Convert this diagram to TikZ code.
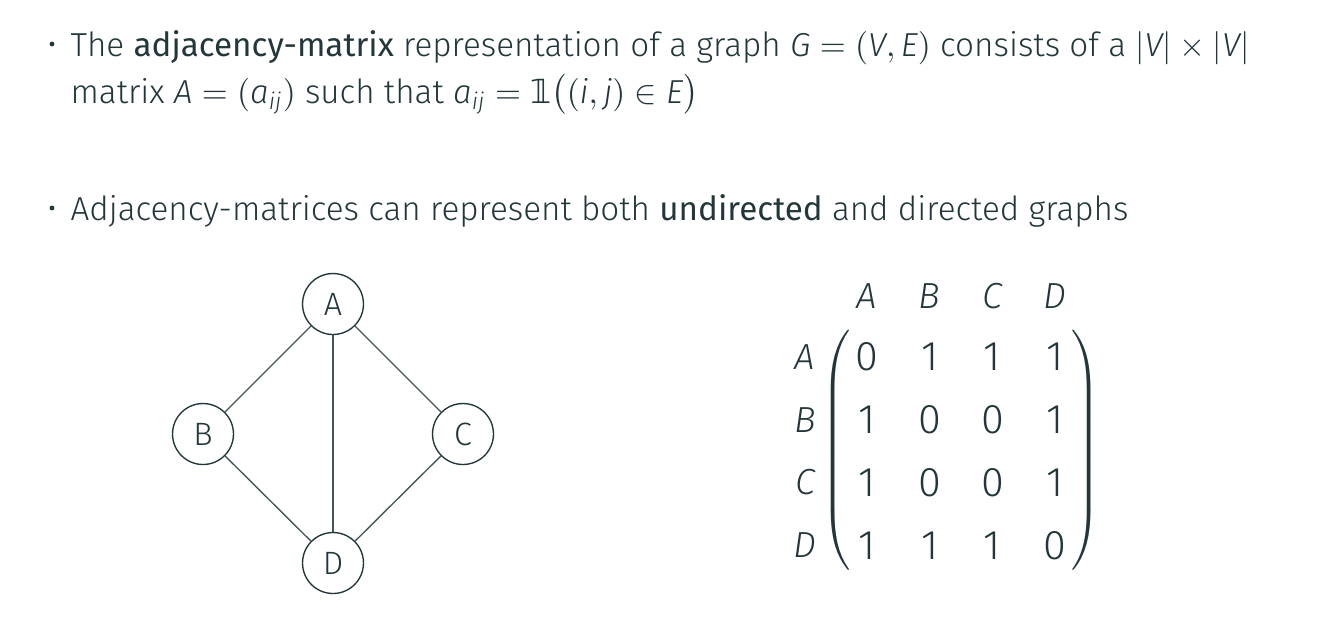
\documentclass[tikz,border=0pt]{standalone}
\usepackage{amsmath}
\usepackage{fontspec}
\setmainfont{Fira Sans Light}[ItalicFont={Fira Sans Light Italic},BoldFont={Fira Sans},BoldItalicFont={Fira Sans Italic}]
\newfontfamily\symfont{DejaVu Sans}
\usetikzlibrary{matrix,positioning}
\definecolor{darkteal}{HTML}{23373B}
\newcommand{\mi}[1]{\textit{#1}}
\newcommand{\indic}{\text{\symfont 𝟙}}

\begin{document}
\begin{tikzpicture}[x=0.328pt,y=-0.328pt,every node/.style={text=darkteal,font=\fontsize{10.9}{13}\selectfont},
  textline/.style={anchor=base west,inner sep=0pt},
  bulletdot/.style={circle,fill=darkteal,inner sep=0pt,minimum size=1.6pt},
  vertex/.style={circle,draw=darkteal,line width=0.45pt,minimum size=20pt,inner sep=0pt,font=\fontsize{10.6}{12}\selectfont},
  edge/.style={draw=darkteal!85,line width=0.45pt},
  lbl/.style={font=\fontsize{11.9}{14}\selectfont\itshape,inner sep=0pt}]
\useasboundingbox (0,0) rectangle (1334,625);
% bullets and text
\node[bulletdot] (b1) at (52,44) {};
\node[textline] (l1) at (70,56) {The \textbf{adjacency-matrix} representation of a graph $\mi{G} = (\mi{V},\mi{E})$ consists of a $|\mi{V}| \times |\mi{V}|$};
\node[textline] (l2) at (70,103) {matrix $\mi{A} = (\mi{a}_{\mi{ij}})$ such that $\mi{a}_{\mi{ij}} = \indic\bigl((\mi{i},\mi{j}) \in \mi{E}\bigr)$};
\node[bulletdot] (b2) at (52,208) {};
\node[textline] (l3) at (70,220) {Adjacency-matrices can represent both \textbf{undirected} and directed graphs};
% graph
\node[vertex] (A) at (333,304) {A};
\node[vertex] (B) at (203,434) {B};
\node[vertex] (C) at (463,434) {C};
\node[vertex] (D) at (333,563) {D};
\foreach \u/\v in {A/B,A/C,A/D,B/D,C/D}
  \draw[edge] (\u)--(\v);
% matrix
\matrix (adj) [matrix of nodes,inner sep=0pt,left delimiter=(,right delimiter=),
  column sep=12.7pt,row sep=4.4pt,
  nodes={font=\fontsize{13.6}{15}\selectfont,minimum width=7.9pt,minimum height=16.2pt,inner sep=0pt}] at (961,451) {
  0 & 1 & 1 & 1 \\
  1 & 0 & 0 & 1 \\
  1 & 0 & 0 & 1 \\
  1 & 1 & 1 & 0 \\
};
\coordinate (toprow) at (0,296);
\coordinate (leftcol) at (805,0);
\foreach \i/\n in {1/A,2/B,3/C,4/D} {
  \node[lbl] (h\n) at (adj-1-\i |- toprow) {\n};
  \node[lbl] (r\n) at (leftcol |- adj-\i-1) {\n};
}
\end{tikzpicture}
\end{document}
